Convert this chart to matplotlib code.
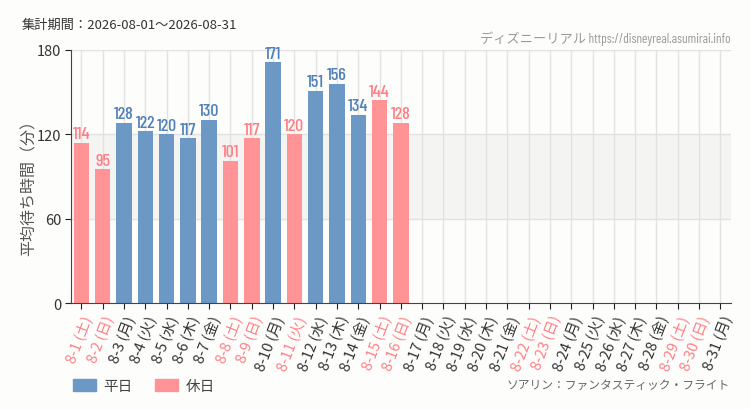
import numpy as np
import matplotlib
matplotlib.use("Agg")
import matplotlib.pyplot as plt
from matplotlib.patches import Patch

plt.rcParams['font.family'] = ['Noto Sans CJK JP', 'DejaVu Sans']

days = list(range(1, 32))
weekdays = (["土", "日", "月", "火", "水", "木", "金"] * 5)[:31]
holidays = [1, 2, 8, 9, 11, 15, 16, 22, 23, 29, 30]
waits = [114, 95, 128, 122, 120, 117, 130, 101, 117, 171, 120, 151, 156, 134, 144, 128]

BLUE = "#6b98c4"
PINK = "#ff9396"
BLUE_TXT = "#4f80b8"
PINK_TXT = "#ff7f86"
BG = "#fdfdfb"

labels = [f"8-{d} ({w})" for d, w in zip(days, weekdays)]
x = np.arange(len(days))

fig = plt.figure(figsize=(7.5, 4.1), dpi=100, facecolor=BG)
ax = fig.add_axes([0.0943, 0.2578, 0.8804, 0.6185])
ax.set_facecolor(BG)

ax.axhspan(60, 120, color="#f4f4f2", zorder=0)
for yv in (60, 120, 180):
    ax.axhline(yv, color="#e2e2e0", lw=1, zorder=0.5)
for xv in x:
    ax.axvline(xv, color="#e2e2e0", lw=1, zorder=0.5)

narrow = ['Barlow Condensed', 'Noto Sans CJK JP', 'DejaVu Sans']
for i, v in enumerate(waits):
    hol = days[i] in holidays
    ax.bar(x[i], v, width=0.73, color=PINK if hol else BLUE, zorder=2)
    ax.text(x[i], v + 1.2, str(v), ha="center", va="bottom", fontsize=13,
            color=PINK_TXT if hol else BLUE_TXT, family=narrow, weight="medium", zorder=3)

ax.set_xlim(-0.5, len(days) - 0.5)
ax.set_ylim(0, 180)
ax.set_yticks([0, 60, 120, 180])
ax.set_yticklabels(["0", "60", "120", "180"], fontsize=10.5, color="#333333")
ax.set_xticks(x)
ax.set_xticklabels(labels, rotation=69, ha="right", va="top", rotation_mode="anchor",
                   fontsize=10.5)
for lab, d in zip(ax.get_xticklabels(), days):
    lab.set_color(PINK_TXT if d in holidays else "#333333")
ax.tick_params(axis="both", length=4, color="#222222", pad=3)

for s in ("top", "right"):
    ax.spines[s].set_visible(False)
ax.spines["left"].set_color("#444444")
ax.spines["bottom"].set_color("#444444")

fig.text(29 / 750, 1 - 184 / 410, "平均待ち時間（分）", fontsize=11.5, color="#555555",
         rotation=90, va="center", ha="center")

fig.text(22 / 750, 1 - 25 / 410, "集計期間：2026-08-01～2026-08-31", fontsize=9.5,
         color="#333333", va="center", ha="left")
fig.text(730 / 750, 1 - 39 / 410, "ディズニーリアル https://disneyreal.asumirai.info",
         fontsize=9.5, color="#999999", va="center", ha="right", family=narrow)
fig.text(730 / 750, 1 - 385 / 410, "ソアリン：ファンタスティック・フライト",
         fontsize=8.5, color="#666666", va="center", ha="right")

handles = [Patch(color=BLUE, label="平日"), Patch(color=PINK, label="休日")]
fig.legend(handles=handles, loc="center left", bbox_to_anchor=(60 / 750, 1 - 387 / 410),
           ncol=2, frameon=False, fontsize=10.5, handlelength=1.6, handleheight=0.8,
           columnspacing=1.5, handletextpad=0.5, labelcolor="#444444")

fig.savefig("out.png", dpi=100, facecolor=BG)
